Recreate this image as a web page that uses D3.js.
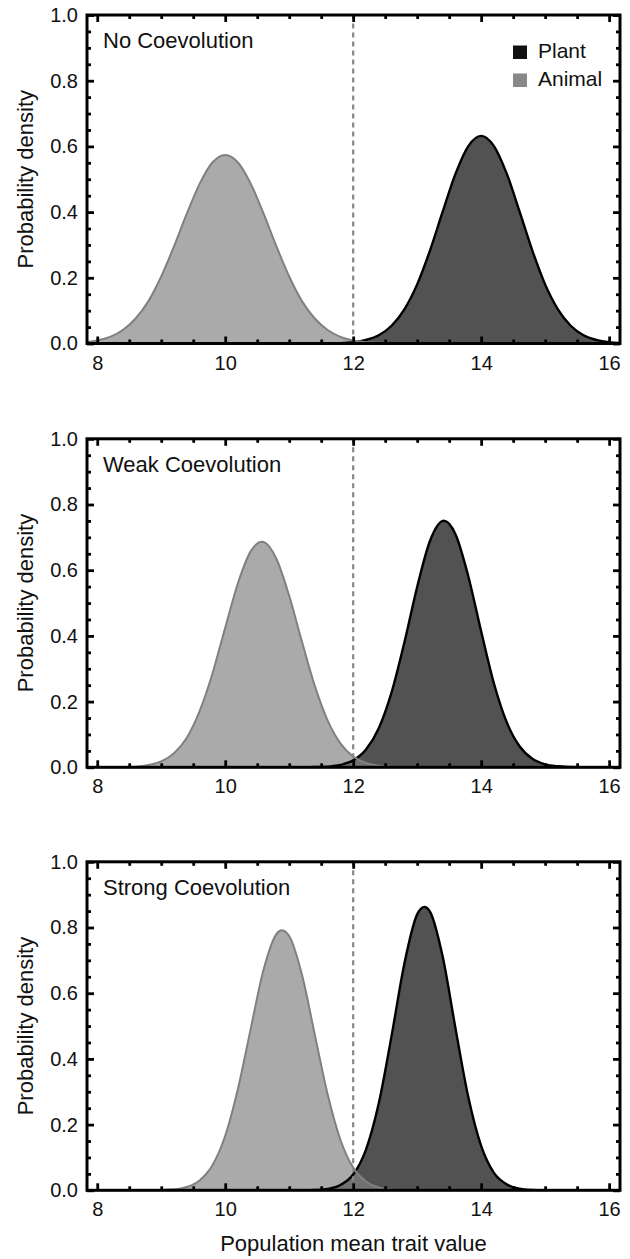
<!DOCTYPE html>
<html>
<head>
<meta charset="utf-8">
<script src="https://cdn.jsdelivr.net/npm/d3@7"></script>
<style>
  body { margin: 0; background: #fff; }
  text { font-family: "Liberation Sans", Arial, sans-serif; fill: #111; }
</style>
</head>
<body>
<script>
// trait values on the x axis (sampled every 0.2)
var traitGrid = [7.8, 8.0, 8.2, 8.4, 8.6, 8.8, 9.0, 9.2, 9.4, 9.6, 9.8, 10.0, 10.2, 10.4, 10.6, 10.8, 11.0, 11.2, 11.4, 11.6, 11.8,
  12.0, 12.2, 12.4, 12.6, 12.8, 13.0, 13.2, 13.4, 13.6, 13.8, 14.0, 14.2, 14.4, 14.6, 14.8, 15.0, 15.2, 15.4, 15.6, 15.8, 16.0, 16.2];

// densities
var animalNone = [0.004, 0.009, 0.020, 0.041, 0.076, 0.129, 0.204, 0.296, 0.395, 0.486, 0.551, 0.574, 0.551, 0.486, 0.395, 0.296, 0.204, 0.129, 0.076, 0.041, 0.020,
  0.009, 0.004, 0.002, 0.001, 0, 0, 0, 0, 0, 0, 0, 0, 0, 0, 0, 0, 0, 0, 0, 0, 0, 0];
var plantNone = [0, 0, 0, 0, 0, 0, 0, 0, 0, 0, 0, 0, 0, 0, 0, 0, 0, 0, 0, 0, 0.001,
  0.004, 0.011, 0.025, 0.054, 0.104, 0.180, 0.283, 0.402, 0.517, 0.601, 0.632, 0.601, 0.517, 0.402, 0.283, 0.180, 0.104, 0.054, 0.025, 0.011, 0.004, 0.001];

var animalWeak = [0, 0, 0, 0.001, 0.002, 0.007, 0.018, 0.043, 0.090, 0.171, 0.285, 0.425, 0.561, 0.658, 0.686, 0.635, 0.522, 0.382, 0.248, 0.143, 0.073,
  0.033, 0.013, 0.005, 0.002, 0, 0, 0, 0, 0, 0, 0, 0, 0, 0, 0, 0, 0, 0, 0, 0, 0, 0];
var plantWeak = [0, 0, 0, 0, 0, 0, 0, 0, 0, 0, 0, 0, 0, 0, 0, 0, 0, 0, 0.001, 0.002, 0.007,
  0.021, 0.054, 0.119, 0.228, 0.380, 0.549, 0.689, 0.750, 0.709, 0.581, 0.414, 0.255, 0.137, 0.064, 0.026, 0.009, 0.003, 0.001, 0, 0, 0, 0];

var animalStrong = [0, 0, 0, 0, 0, 0, 0.001, 0.003, 0.010, 0.030, 0.076, 0.166, 0.310, 0.493, 0.672, 0.780, 0.774, 0.656, 0.474, 0.293, 0.154,
  0.069, 0.027, 0.009, 0.002, 0.001, 0, 0, 0, 0, 0, 0, 0, 0, 0, 0, 0, 0, 0, 0, 0, 0, 0];
var plantStrong = [0, 0, 0, 0, 0, 0, 0, 0, 0, 0, 0, 0, 0, 0, 0, 0, 0, 0, 0.001, 0.004, 0.016,
  0.048, 0.124, 0.265, 0.470, 0.690, 0.840, 0.848, 0.710, 0.492, 0.283, 0.135, 0.053, 0.018, 0.005, 0.001, 0, 0, 0, 0, 0, 0, 0];

var panelNames = ['No Coevolution', 'Weak Coevolution', 'Strong Coevolution'];
var animalSeries = [animalNone, animalWeak, animalStrong];
var plantSeries = [plantNone, plantWeak, plantStrong];
var legendNames = ['Plant', 'Animal'];
var xTickLabels = [8, 10, 12, 14, 16];
var yTickLabels = [0, 0.2, 0.4, 0.6, 0.8, 1.0];
var thresholdValue = 12;

var width = 630;
var height = 1259;
var plotLeft = 87, plotRight = 620;
var panelTops = [15, 438.8, 861.8];
var panelHeight = 328.5;

var xRange = d3.scaleLinear().domain([7.84, 16.17]).range([plotLeft, plotRight]);

var svg = d3.select('body')
  .append('svg')
  .attr('width', width)
  .attr('height', height);

for (let i = 0; i < panelNames.length; i++) {
  drawPanel(i);
}

// x axis title
svg.append('text')
  .attr('x', (plotLeft + plotRight) / 2)
  .attr('y', 1251)
  .attr('text-anchor', 'middle')
  .style('font-size', '22px')
  .text('Population mean trait value');

function drawPanel(i) {
  let top = panelTops[i];
  let bottom = top + panelHeight;
  let yRange = d3.scaleLinear().domain([0, 1]).range([bottom, top]);
  let g = svg.append('g').attr('class', 'panel');

  g.append('clipPath')
    .attr('id', 'clip' + i)
    .append('rect')
    .attr('x', plotLeft)
    .attr('y', top)
    .attr('width', plotRight - plotLeft)
    .attr('height', panelHeight);

  let curve = d3.curveCatmullRom.alpha(0);
  let area = d3.area()
    .x(function (d) { return xRange(d.x); })
    .y0(yRange(0))
    .y1(function (d) { return yRange(d.y); })
    .curve(curve);
  let line = d3.line()
    .x(function (d) { return xRange(d.x); })
    .y(function (d) { return yRange(d.y); })
    .curve(curve);

  let plant = traitGrid.map(function (x, k) { return {x: x, y: plantSeries[i][k]}; });
  let animal = traitGrid.map(function (x, k) { return {x: x, y: animalSeries[i][k]}; });

  let curves = g.append('g').attr('clip-path', 'url(#clip' + i + ')');

  curves.append('path')
    .attr('d', area(plant))
    .style('fill', 'rgba(0,0,0,0.68)');
  curves.append('path')
    .attr('d', area(animal))
    .style('fill', 'rgba(128,128,128,0.67)');
  curves.append('path')
    .attr('d', line(plant))
    .style('fill', 'none')
    .style('stroke', '#000')
    .style('stroke-width', 2.4);
  curves.append('path')
    .attr('d', line(animal))
    .style('fill', 'none')
    .style('stroke', '#808080')
    .style('stroke-width', 2);

  // dashed threshold line
  g.append('line')
    .attr('x1', xRange(thresholdValue))
    .attr('x2', xRange(thresholdValue))
    .attr('y1', bottom)
    .attr('y2', top)
    .style('stroke', '#868686')
    .style('stroke-width', 2.2)
    .style('stroke-dasharray', '5,4');

  // ticks on all four sides, pointing inward
  let xMinor = xRange.ticks(16).filter(function (t) { return xTickLabels.indexOf(t) < 0; });
  let yMinor = yRange.ticks(20).filter(function (t) { return Math.abs(t * 5 - Math.round(t * 5)) > 1e-6; });

  addAxis(g, d3.axisBottom(xRange).tickValues(xTickLabels).tickSize(-7).tickPadding(12).tickFormat(d3.format('d')), 0, bottom);
  addAxis(g, d3.axisBottom(xRange).tickValues(xMinor).tickSize(-4).tickFormat(''), 0, bottom);
  addAxis(g, d3.axisTop(xRange).tickValues(xTickLabels).tickSize(-7).tickFormat(''), 0, top);
  addAxis(g, d3.axisTop(xRange).tickValues(xMinor).tickSize(-4).tickFormat(''), 0, top);
  addAxis(g, d3.axisLeft(yRange).tickValues(yTickLabels).tickSize(-7).tickPadding(9).tickFormat(d3.format('.1f')), plotLeft, 0);
  addAxis(g, d3.axisLeft(yRange).tickValues(yMinor).tickSize(-4).tickFormat(''), plotLeft, 0);
  addAxis(g, d3.axisRight(yRange).tickValues(yTickLabels).tickSize(-7).tickFormat(''), plotRight, 0);
  addAxis(g, d3.axisRight(yRange).tickValues(yMinor).tickSize(-4).tickFormat(''), plotRight, 0);

  // frame
  g.append('rect')
    .attr('x', plotLeft)
    .attr('y', top)
    .attr('width', plotRight - plotLeft)
    .attr('height', panelHeight)
    .style('fill', 'none')
    .style('stroke', '#000')
    .style('stroke-width', 3);

  // y axis title
  g.append('text')
    .attr('transform', 'translate(33,' + (top + panelHeight / 2) + ') rotate(-90)')
    .attr('text-anchor', 'middle')
    .style('font-size', '22px')
    .text('Probability density');

  // panel label
  g.append('text')
    .attr('x', 103)
    .attr('y', top + 33)
    .style('font-size', '22px')
    .text(panelNames[i]);

  if (i === 0) drawLegend(g, top);
}

function addAxis(g, axis, tx, ty) {
  let a = g.append('g')
    .attr('transform', 'translate(' + tx + ',' + ty + ')')
    .call(axis);
  a.select('.domain').remove();
  a.selectAll('.tick line')
    .style('stroke', '#000')
    .style('stroke-width', 2.8);
  a.selectAll('.tick text')
    .style('font-size', '20px')
    .style('font-family', '"Liberation Sans", Arial, sans-serif')
    .style('fill', '#111');
}

function drawLegend(g, top) {
  let colors = ['#111', '#888'];
  let items = g.selectAll('g.legend')
    .data(legendNames)
    .enter()
    .append('g')
    .attr('class', 'legend')
    .attr('transform', function (d, k) { return 'translate(513,' + (top + 30.5 + k * 28) + ')'; });
  items.append('rect')
    .attr('width', 14)
    .attr('height', 13.5)
    .style('fill', function (d, k) { return colors[k]; });
  items.append('text')
    .attr('x', 25)
    .attr('y', 12)
    .style('font-size', '21px')
    .text(function (d) { return d; });
}
</script>
</body>
</html>
